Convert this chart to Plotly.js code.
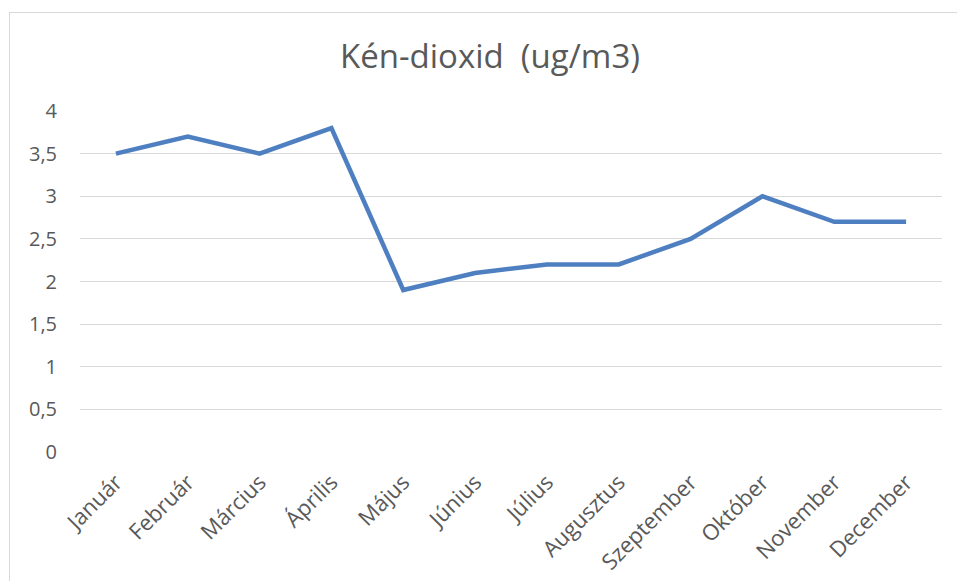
<!DOCTYPE html>
<html><head><meta charset="utf-8">
<script src="https://cdn.plot.ly/plotly-3.0.1.min.js"></script>
<style>
html,body{margin:0;padding:0;background:#fff;overflow:hidden;}
#chart{width:957px;height:581px;}
#frame{position:absolute;left:9px;top:12px;width:1000px;height:1000px;border:1px solid #d9d9d9;pointer-events:none;}
</style></head>
<body>
<div id="chart"></div>
<div id="frame"></div>
<script>
const months = ["Január","Február","Március","Április","Május","Június","Július","Augusztus","Szeptember","Október","November","December"];
const so2 = [3.5, 3.7, 3.5, 3.8, 1.9, 2.1, 2.2, 2.2, 2.5, 3.0, 2.7, 2.7];
const yTicks = [0, 0.5, 1, 1.5, 2, 2.5, 3, 3.5, 4];
const chartTitle = "Kén-dioxid  (ug/m3)";

Plotly.newPlot("chart", [{
  x: months, y: so2, type: "scatter", mode: "lines",
  line: {color: "#4e7fc0", width: 4.5},
  hoverinfo: "skip"
}], {
  width: 957, height: 581,
  margin: {l: 80, r: 15, t: 111, b: 129},
  paper_bgcolor: "rgba(0,0,0,0)", plot_bgcolor: "#fff",
  separators: ", ",
  font: {family: "Open Sans, sans-serif", color: "#595959"},
  title: {text: chartTitle, x: 0.512, xanchor: "center", y: 0.902, yanchor: "middle",
          font: {size: 33, color: "#595959", family: "Open Sans, sans-serif"}},
  showlegend: false,
  xaxis: {type: "category", tickangle: -45, showgrid: false, zeroline: false, showline: false,
          ticks: "", ticklabelstandoff: 12, tickfont: {size: 22, color: "#595959"}, range: [-0.5, 11.5], fixedrange: true},
  yaxis: {range: [0, 4], tickvals: yTicks, showgrid: true, gridcolor: "#d9d9d9", gridwidth: 1,
          zeroline: false, showline: false, ticks: "", ticklabelstandoff: 22,
          tickfont: {size: 20, color: "#595959"}, fixedrange: true}
}, {staticPlot: true});
</script>
</body></html>
